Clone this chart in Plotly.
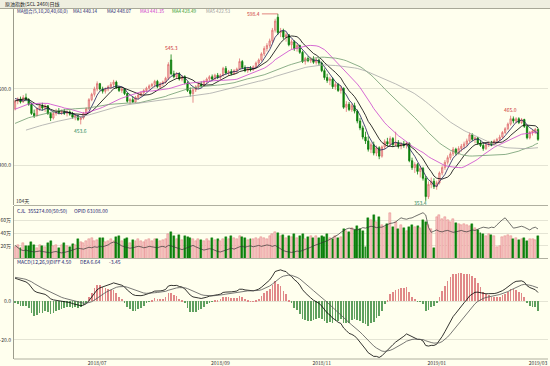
import pandas as pd
import plotly.graph_objects as go

# ---------------- trading calendar ----------------
holidays = ["2018-06-18", "2018-09-24", "2018-10-01", "2018-10-02", "2018-10-03",
            "2018-10-04", "2018-10-05", "2018-12-31", "2019-01-01", "2019-02-04",
            "2019-02-05", "2019-02-06", "2019-02-07", "2019-02-08"]
trade_days = pd.bdate_range("2018-05-18", "2019-03-01")
trade_days = trade_days[~trade_days.isin(pd.to_datetime(holidays))]
dates = trade_days.strftime("%Y-%m-%d").tolist()

# ---------------- price data ----------------
open_ = [474, 484, 487, 483, 489, 486, 480, 468, 465, 474,
         478, 475, 478, 468, 462, 468, 471, 469, 470, 468,
         470, 467, 463, 465, 460, 462, 468, 474, 486, 493,
         500, 507, 500, 497, 500, 503, 506, 509, 502, 498,
         500, 494, 484, 486, 483, 489, 492, 495, 498, 501,
         504, 506, 510, 503, 507, 509, 514, 538, 520, 516,
         520, 513, 516, 508, 498, 494, 499, 503, 506, 504,
         510, 513, 516, 513, 518, 515, 518, 527, 521, 523,
         520, 524, 526, 536, 528, 524, 527, 525, 529, 534,
         538, 546, 553, 557, 563, 577, 594, 574, 576, 568,
         571, 558, 562, 553, 557, 548, 536, 540, 537, 539,
         535, 538, 534, 524, 515, 511, 513, 503, 506, 498,
         501, 476, 480, 473, 478, 471, 458, 449, 437, 432,
         421, 427, 416, 423, 412, 424, 431, 428, 435, 427,
         430, 425, 428, 426, 429, 406, 397, 401, 392, 396,
         383, 359, 375, 379, 372, 377, 390, 397, 404, 410,
         415, 421, 416, 422, 425, 428, 432, 440, 434, 436,
         429, 426, 422, 427, 429, 427, 432, 434, 437, 443,
         448, 454, 461, 458, 461, 456, 460, 451, 436, 443,
         445, 447]
high = [486, 489, 490, 492, 494, 488, 482, 473, 476, 481,
        482, 480, 479, 470, 470, 474, 475, 473, 474, 472,
        472, 470, 467, 466, 464, 470, 476, 488, 495, 503,
        510, 508, 503, 502, 505, 509, 512, 511, 504, 502,
        501, 495, 488, 490, 491, 494, 497, 500, 503, 506,
        508, 512, 512, 509, 511, 516, 535, 545.3, 524, 522,
        522, 518, 518, 510, 502, 501, 505, 508, 510, 512,
        515, 518, 519, 520, 521, 520, 529, 530, 525, 526,
        526, 528, 540, 538, 531, 529, 530, 531, 536, 540,
        548, 556, 560, 566, 580, 592, 598.4, 580, 579, 574,
        572, 565, 564, 560, 558, 550, 542, 543, 542, 543,
        541, 540, 536, 527, 520, 516, 515, 509, 508, 504,
        502, 484, 483, 481, 482, 473, 462, 452, 444, 438,
        430, 431, 426, 425, 426, 434, 436, 438, 437, 444,
        433, 430, 432, 431, 430, 410, 404, 403, 399, 398,
        386, 379, 384, 383, 380, 392, 400, 407, 413, 418,
        424, 423, 425, 428, 431, 435, 443, 442, 438, 437,
        433, 430, 430, 432, 432, 434, 436, 440, 445, 450,
        456, 465.0, 464, 463, 463, 462, 461, 452, 445, 447,
        449, 449]
low = [472, 480, 481, 482, 484, 478, 466, 462, 464, 471,
       472, 470, 466, 458, 460, 465, 467, 466, 466, 464,
       465, 461, 459, 458, 453.6, 460, 466, 472, 484, 490,
       497, 498, 494, 494, 497, 500, 502, 500, 496, 495,
       492, 482, 480, 482, 482, 486, 490, 492, 496, 499,
       502, 502, 501, 501, 504, 507, 512, 518, 514, 513,
       511, 510, 506, 496, 490, 482, 496, 500, 502, 503,
       507, 510, 511, 512, 513, 512, 516, 519, 517, 518,
       519, 521, 525, 526, 522, 521, 523, 524, 527, 531,
       536, 543, 549, 554, 560, 574, 571, 568, 565, 562,
       556, 552, 550, 549, 546, 534, 532, 535, 534, 533,
       532, 531, 522, 512, 508, 505, 500, 499, 496, 494,
       474, 470, 471, 470, 468, 455, 446, 434, 428, 418,
       416, 413, 412, 408, 410, 421, 425, 426, 424, 425,
       422, 421, 423, 422, 404, 394, 390, 388, 384, 380,
       353.4, 356, 370, 369, 368, 375, 387, 394, 401, 407,
       412, 413, 414, 418, 421, 425, 430, 432, 429, 427,
       424, 419, 420, 424, 425, 426, 428, 431, 435, 441,
       446, 452, 455, 455, 454, 454, 449, 434, 434, 439,
       441, 432]
close = [484, 487, 483, 489, 486, 480, 468, 465, 474, 478,
         475, 478, 468, 462, 468, 471, 469, 470, 468, 470,
         467, 463, 465, 460, 462, 468, 474, 486, 493, 500,
         507, 500, 497, 500, 503, 506, 509, 502, 498, 500,
         494, 484, 486, 483, 489, 492, 495, 498, 501, 504,
         506, 510, 503, 507, 509, 514, 532, 520, 516, 520,
         513, 516, 508, 498, 494, 499, 503, 506, 504, 510,
         513, 516, 513, 518, 515, 518, 527, 521, 523, 520,
         524, 526, 536, 528, 524, 527, 525, 529, 534, 538,
         546, 553, 557, 563, 577, 589, 574, 576, 568, 571,
         558, 562, 553, 557, 548, 536, 540, 537, 539, 535,
         538, 534, 524, 515, 511, 513, 503, 506, 498, 501,
         476, 480, 473, 478, 471, 458, 449, 437, 432, 421,
         427, 416, 423, 412, 424, 431, 428, 435, 427, 430,
         425, 428, 426, 429, 406, 397, 401, 392, 396, 383,
         359, 375, 379, 372, 377, 390, 397, 404, 410, 415,
         421, 416, 422, 425, 428, 432, 440, 434, 436, 429,
         426, 422, 427, 429, 427, 432, 434, 437, 443, 448,
         454, 461, 458, 461, 456, 460, 451, 436, 443, 445,
         447, 434]
# closes before the visible window (only feed the moving averages / MACD)
pre_close = [404, 408, 406, 411, 409, 414, 412, 416, 413, 418, 415, 419, 417, 421, 420,
             423, 421, 426, 424, 428, 427, 431, 429, 434, 432, 437, 435, 440, 438, 443,
             442, 446, 445, 449, 448, 452, 455, 453, 458, 461, 459, 464, 467, 465, 470,
             474, 473, 479, 483, 482, 488, 492, 490, 494, 478]

# volume in 万 (10k) and open interest (OPID) in 万
volume = [18, 22, 16, 24, 20, 19, 26, 21, 17, 22,
          20, 18, 24, 27, 19, 21, 17, 22, 25, 20, 18, 23, 21, 31, 26, 24, 28, 30, 32, 27,
          29, 33, 32, 26, 28, 30, 27, 34, 36, 28, 31, 33, 25, 29, 27, 30, 28, 26, 29, 31, 27, 30,
          30, 27, 29, 31, 38, 41, 36, 30, 37, 29, 35, 34, 32, 30, 28, 31, 29, 27, 30, 28, 32, 29, 30,
          28, 30, 34, 31, 35, 33, 30, 36, 34, 32, 29, 31, 30, 33, 31, 34, 32, 30, 35,
          38, 41, 40, 35, 37, 33, 36, 34, 38, 32, 35, 39, 31, 34, 36, 33, 35, 32,
          36, 34, 38, 33, 31, 35, 32, 34, 46, 44, 42, 48, 45, 51, 47, 43, 18, 64, 60, 68, 58, 66,
          52, 49, 55, 71, 50, 57, 46, 53, 48, 44, 50, 53, 49, 51, 48, 61, 58, 52, 47, 16,
          66, 68, 63, 65, 60, 58, 62, 56, 54, 52, 55, 53, 51, 54, 48, 45, 40, 38, 36, 39, 37, 35,
          18, 20, 34, 36, 37, 35, 30, 32, 29, 31, 33, 28, 30, 31, 29, 35.5274]
open_interest = [2.8, 2.4, 1.9, 1.7, 1.8, 1.6, 1.5, 1.4, 1.5, 1.6,
                 1.5, 1.4, 1.3, 1.2, 1.4, 1.5, 1.3, 1.2, 1.3, 1.4,
                 1.6, 1.8, 2.0, 2.2, 2.1, 2.0, 2.2, 2.4, 2.3, 2.5,
                 2.4, 2.6, 2.5, 2.7, 2.9, 3.3, 3.5, 3.4, 3.0, 2.7,
                 2.5, 2.4, 2.2, 2.3, 2.4, 2.6, 2.5, 2.3, 2.4, 2.6,
                 2.5, 2.4, 2.3, 2.5, 2.6, 2.4, 2.8, 2.7, 2.5, 2.2,
                 2.0, 1.9, 2.1, 2.3, 2.6, 2.8, 2.5, 2.2, 2.0, 1.8,
                 1.9, 2.1, 2.0, 1.7, 1.5, 1.4, 1.6, 1.8, 2.0, 2.2,
                 2.0, 2.3, 2.5, 2.6, 2.4, 2.6, 2.7, 2.5, 2.6, 2.8,
                 2.6, 2.7, 2.9, 2.8, 2.6, 2.8, 2.4, 2.0, 1.7, 1.5,
                 1.4, 1.3, 1.4, 1.6, 1.5, 1.7, 1.9, 2.2, 2.4, 2.7,
                 2.9, 3.1, 3.3, 3.5, 3.8, 4.1, 4.4, 4.8, 5.1, 5.6,
                 6.0, 6.3, 6.5, 6.4, 6.2, 6.1, 6.3, 6.6, 6.5, 6.7,
                 6.9, 6.8, 6.6, 6.7, 6.7, 7.0, 7.3, 7.5, 7.6, 7.8,
                 8.3, 8.7, 8.5, 8.4, 8.6, 8.7, 9.0, 9.3, 9.6, 9.8,
                 9.3, 6.7, 5.6, 5.9, 6.1, 5.8, 5.7, 5.9, 6.0, 5.8,
                 5.6, 5.7, 5.9, 6.0, 5.8, 5.7, 5.9, 6.1, 6.0, 6.3,
                 6.5, 6.7, 6.6, 6.5, 6.7, 6.6, 7.2, 7.8, 8.3, 8.7,
                 8.0, 7.2, 6.5, 6.6, 6.8, 6.9, 6.7, 6.4, 6.1, 6.5,
                 6.7, 6.3108]

month_ticks = ["2018-07-02", "2018-09-03", "2018-11-01", "2019-01-02", "2019-03-01"]
month_labels = ["2018/07", "2018/09", "2018/11", "2019/01", "2019/03"]

price_ticks = [400, 500]
price_tick_text = ["400.0", "500.0"]
vol_ticks = [20, 40, 60]
vol_tick_text = ["20万", "40万", "60万"]
macd_ticks = [-20, 0]
macd_tick_text = ["-20.0", "0.0"]

ma_periods = [5, 10, 20, 40, 60]
ma_names = ["MA1", "MA2", "MA3", "MA4", "MA5"]
ma_legend_values = ["440.14", "448.07", "441.35", "428.49", "422.53"]
peak_marks = [598.4, 545.3, 465.0]
trough_marks = [453.6, 353.4]

n = len(dates)
for arr in (open_, high, low, close, volume, open_interest):
    assert len(arr) == n, (len(arr), n)

# ---------------- indicators ----------------
full_close = pd.Series(pre_close + close, dtype=float)
n_pre = len(pre_close)
ma_values = {p: full_close.rolling(p).mean().iloc[n_pre:].tolist() for p in ma_periods}
ema12 = full_close.ewm(span=12, adjust=False).mean()
ema26 = full_close.ewm(span=26, adjust=False).mean()
diff = ema12 - ema26
dea = diff.ewm(span=9, adjust=False).mean()
hist = 2 * (diff - dea)
diff_v = diff.iloc[n_pre:].tolist()
dea_v = dea.iloc[n_pre:].tolist()
hist_v = hist.iloc[n_pre:].tolist()

# ---------------- geometry / style ----------------
W, H = 550, 366
ML, MR, MT, MB = 14, 2, 9, 7
PW, PH = W - ML - MR, H - MT - MB


def py(Y):
    return (H - MB - Y) / PH


def px(X):
    return (X - ML) / PW


BG = "#ffffee"
UP_LINE, UP_FILL = "#e07272", "#f6c4c4"
DN = "#0b7f0b"
ma_colors = ["#1e1e5a", "#000000", "#cc44cc", "#6f9a6f", "#a8a8a8"]
legend_colors = ["#1e1e6e", "#1e1e6e", "#cc33cc", "#2f9a2f", "#9a9a9a"]
FONT = "Noto Sans CJK SC"
FS = 5

fig = go.Figure()

fig.add_trace(go.Candlestick(
    x=dates, open=open_, high=high, low=low, close=close,
    increasing=dict(line=dict(color=UP_LINE, width=0.8), fillcolor=UP_FILL),
    decreasing=dict(line=dict(color=DN, width=0.8), fillcolor=DN),
    whiskerwidth=0, xaxis="x", yaxis="y", showlegend=False, hoverinfo="skip"))

for p, c in zip(ma_periods, ma_colors):
    fig.add_trace(go.Scatter(x=dates, y=ma_values[p], mode="lines",
                             line=dict(color=c, width=0.8), xaxis="x", yaxis="y",
                             showlegend=False, hoverinfo="skip"))

up = [c >= o for o, c in zip(open_, close)]
fig.add_trace(go.Bar(
    x=dates, y=volume, width=0.72,
    marker=dict(color=[UP_FILL if u else DN for u in up],
                line=dict(color=[UP_LINE if u else DN for u in up], width=0.4)),
    xaxis="x2", yaxis="y2", showlegend=False, hoverinfo="skip"))
fig.add_trace(go.Scatter(x=dates, y=open_interest, mode="lines",
                         line=dict(color="#333333", width=0.7), xaxis="x2", yaxis="y4",
                         showlegend=False, hoverinfo="skip"))

fig.add_trace(go.Bar(
    x=dates, y=hist_v, width=0.25,
    marker=dict(color=["#e08888" if v >= 0 else "#5fa05f" for v in hist_v], line=dict(width=0)),
    xaxis="x3", yaxis="y3", showlegend=False, hoverinfo="skip"))
fig.add_trace(go.Scatter(x=dates, y=diff_v, mode="lines", line=dict(color="#000000", width=0.8),
                         xaxis="x3", yaxis="y3", showlegend=False, hoverinfo="skip"))
fig.add_trace(go.Scatter(x=dates, y=dea_v, mode="lines", line=dict(color="#555555", width=0.8),
                         xaxis="x3", yaxis="y3", showlegend=False, hoverinfo="skip"))

xcommon = dict(type="category", showgrid=False, zeroline=False, showline=False,
               showticklabels=False, ticks="", automargin=False)
ycommon = dict(showline=True, linecolor="#9c9c8c", linewidth=1, zeroline=False,
               gridcolor="#e4e4d4", gridwidth=0.6, ticks="", automargin=False,
               tickfont=dict(size=FS, color="#333333", family=FONT), ticklabelstandoff=1)

fig.update_layout(
    width=W, height=H, margin=dict(l=ML, r=MR, t=MT, b=MB, autoexpand=False),
    paper_bgcolor=BG, plot_bgcolor=BG, hovermode=False, bargap=0, barmode="overlay",
    xaxis=dict(**xcommon, domain=[0, 1], anchor="y", range=[-0.37, 194.65],
               rangeslider=dict(visible=False)),
    xaxis2=dict(**xcommon, domain=[0, 1], anchor="y2", matches="x"),
    xaxis3=dict(type="category", domain=[0, 1], anchor="y3", matches="x", automargin=False,
                showgrid=False, zeroline=False, showline=False,
                tickmode="array", tickvals=month_ticks, ticktext=month_labels,
                ticks="", ticklabelstandoff=0,
                tickfont=dict(size=FS, color="#333333", family=FONT), tickangle=0),
    yaxis=dict(**ycommon, domain=[py(205), 1], range=[348.0, 604.8],
               tickvals=price_ticks, ticktext=price_tick_text),
    yaxis2=dict(**ycommon, domain=[py(258.5), py(206)], range=[0, 82.7],
                tickvals=vol_ticks, ticktext=vol_tick_text),
    yaxis4=dict(overlaying="y2", range=[0, 11.23], visible=False),
    yaxis3=dict(**ycommon, domain=[0, py(259)], range=[-29.9, 21.9],
                tickvals=macd_ticks, ticktext=macd_tick_text),
)

shapes = [
    dict(type="rect", xref="paper", yref="paper", x0=px(0), x1=px(W), y0=py(8.5), y1=py(0),
         fillcolor="#efefe0", line=dict(width=0), layer="below"),
    dict(type="line", xref="paper", yref="paper", x0=px(0), x1=px(W), y0=py(8.5), y1=py(8.5),
         line=dict(color="#a8a898", width=1)),
    dict(type="line", xref="paper", yref="paper", x0=0, x1=1, y0=py(205.5), y1=py(205.5),
         line=dict(color="#b0b0a0", width=1)),
    dict(type="line", xref="paper", yref="paper", x0=0, x1=1, y0=py(258.5), y1=py(258.5),
         line=dict(color="#b0b0a0", width=1)),
    dict(type="line", xref="paper", yref="paper", x0=0, x1=1, y0=0, y1=0,
         line=dict(color="#b0b0a0", width=1)),
]
fig.update_layout(shapes=shapes)

ann = []


def txt(X, Y, s, color="#333333", size=FS, anchor="left"):
    ann.append(dict(xref="paper", yref="paper", x=px(X), y=py(Y), text=s, showarrow=False,
                    xanchor=anchor, yanchor="middle",
                    font=dict(size=size, color=color, family=FONT)))


txt(3, 4.2, "原油指数(SCL 2460)日线", "#222222")
txt(15, 11.5, "MA组合(5,10,20,40,60,0)", "#1e1e6e", size=4.6)
for X, name, val, col in zip([71, 105, 138, 170, 204], ma_names, ma_legend_values, legend_colors):
    txt(X, 11.5, f"{name} {val}", col, size=4.6)
txt(14, 201, "104天", "#333333")
txt(15, 210, "CJL  355274.00(50:50)", "#1e1e6e")
txt(72, 210, "OPID 63108.00", "#1e1e6e")
txt(15, 261.5, "MACD(12,26,9)", "#1e1e6e")
txt(48, 261.5, "DIFF 4.50", "#1e1e6e")
txt(78, 261.5, "DEA 6.64", "#1e1e6e")
txt(107, 261.5, "-3.45", "#1e1e6e")

for v in peak_marks:
    i = high.index(v)
    if v == max(high):
        ann.append(dict(x=dates[i], y=v, xref="x", yref="y", text=f"{v:.1f}", showarrow=True,
                        arrowhead=0, arrowwidth=0.6, arrowcolor="#cc3333", ax=-16, ay=0,
                        xanchor="right", font=dict(size=FS, color="#cc3333", family=FONT)))
    else:
        ann.append(dict(x=dates[i], y=v, xref="x", yref="y", text=f"{v:.1f}", showarrow=False,
                        yanchor="bottom", yshift=1, font=dict(size=FS, color="#cc3333", family=FONT)))
for v in trough_marks:
    i = low.index(v)
    if v == min(low):
        ann.append(dict(x=dates[i], y=v, xref="x", yref="y", text=f"{v:.1f}", showarrow=False,
                        xanchor="right", xshift=3, yanchor="middle", yshift=-2,
                        font=dict(size=FS, color="#2e8a5e", family=FONT)))
    else:
        ann.append(dict(x=dates[i], y=v, xref="x", yref="y", text=f"{v:.1f}", showarrow=False,
                        yanchor="top", yshift=-1, font=dict(size=FS, color="#2e8a5e", family=FONT)))

fig.update_layout(annotations=ann)
fig.write_html("out.html", config={"displayModeBar": False},
               post_script="document.body.style.margin='0';document.body.style.padding='0';"
                           "document.documentElement.style.overflow='hidden';")
